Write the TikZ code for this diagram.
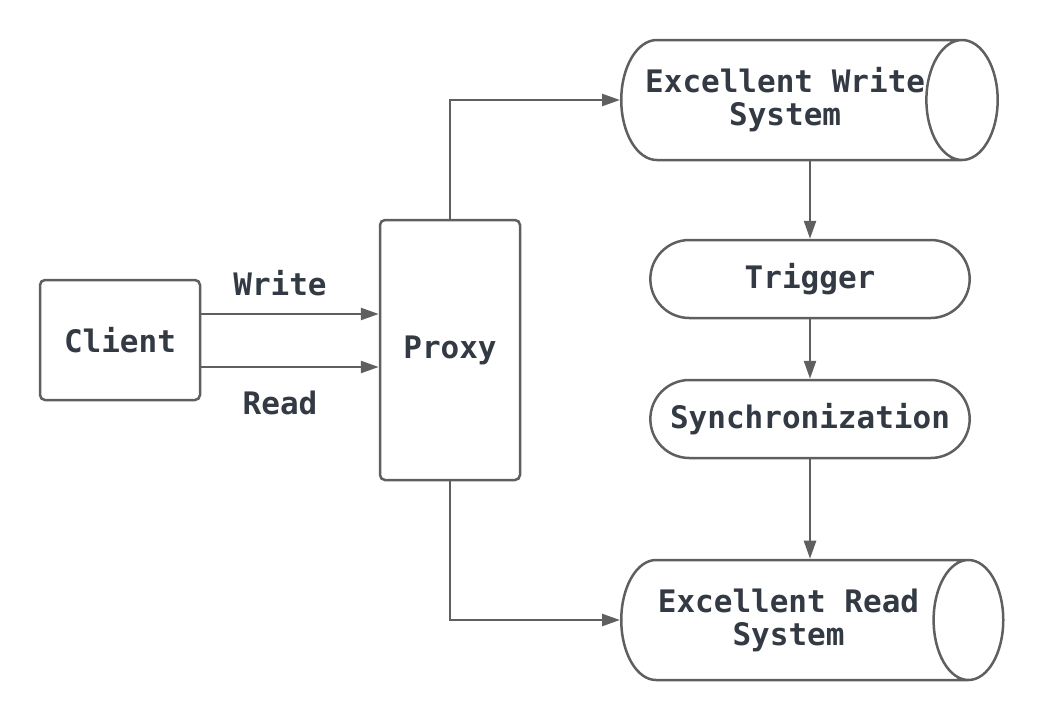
\documentclass[tikz,border=0pt]{standalone}
\usepackage{fontspec}
\setmonofont{DejaVu Sans Mono}
\usetikzlibrary{arrows.meta,shapes.geometric,shapes.misc}
\definecolor{linegray}{RGB}{95,95,95}
\definecolor{textdark}{RGB}{51,58,68}
\begin{document}
\begin{tikzpicture}[x=1pt,y=-1pt,
    font=\ttfamily\bfseries\fontsize{31}{33}\selectfont,
    box/.style={draw=linegray,line width=2.5pt,rounded corners=5pt,text=textdark},
    pill/.style={draw=linegray,line width=2.5pt,rounded rectangle,minimum width=326pt,minimum height=78pt,text=textdark},
    store/.style={draw=linegray,line width=2.5pt,cylinder,aspect=1.0,minimum width=120pt,inner xsep=0pt,align=center,text=textdark,anchor=west},
    link/.style={draw=linegray,line width=2.5pt,-{Triangle[length=18pt,width=12pt]}}]
    \useasboundingbox (0,0) rectangle (1040,720);
    % Nodes
    \node[box,minimum width=160pt,minimum height=120pt] (client) at (120,340) {Client};
    \node[box,minimum width=140pt,minimum height=260pt] (proxy) at (450,350) {Proxy};
    \node[store] (wsys) at (620,100) {Excellent Write\\System};
    \node[pill] (trigger) at (810,279) {Trigger};
    \node[pill] (sync) at (810,419) {Synchronization};
    \node[store,minimum height=382pt] (rsys) at (620,620) {Excellent Read\\System};
    % Client to proxy
    \draw[link] ([yshift=26pt]client.east) -- node[midway,yshift=31pt,xshift=-10pt,text=textdark] {Write} ([yshift=26pt]client.east -| proxy.west);
    \draw[link] ([yshift=-27pt]client.east) -- node[midway,yshift=-36pt,xshift=-10pt,text=textdark] {Read} ([yshift=-27pt]client.east -| proxy.west);
    % Proxy to systems
    \draw[link] (proxy.north) |- (wsys.west);
    \draw[link] (proxy.south) |- (rsys.west);
    % Pipeline
    \draw[link] (wsys.south -| trigger.north) -- (trigger.north);
    \draw[link] (trigger.south) -- (sync.north);
    \draw[link] (sync.south) -- (rsys.north -| sync.south);
\end{tikzpicture}
\end{document}
